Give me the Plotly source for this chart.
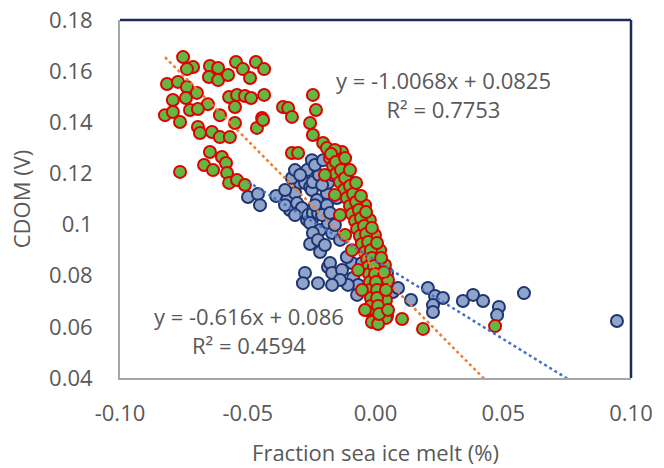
import plotly.graph_objects as go

# ---------------- data ----------------
blue_x = [-0.0499, -0.0460, -0.0452, -0.0389, -0.0346, -0.0335, -0.0315, -0.0307, -0.0295, -0.0295,
          -0.0288, -0.0276, -0.0268, -0.0268, -0.0264, -0.0249, -0.0256, -0.0249, -0.0249, -0.0245,
          -0.0245, -0.0229, -0.0225, -0.0221, -0.0217, -0.0190, -0.0190, -0.0186, -0.0166, -0.0151,
          -0.0108, -0.0088, -0.0256, -0.0245, -0.0256, -0.0217, -0.0186, -0.0170, -0.0186, -0.0178,
          -0.0170, -0.0131, -0.0092, -0.0112, -0.0088, -0.0068, -0.0108, -0.0139, -0.0170, -0.0225,
          -0.0276, -0.0284, -0.0072, -0.0053, -0.0053, 0.0045, 0.0068, 0.0088, 0.0139, 0.0205,
          0.0233, 0.0264, 0.0225, 0.0225, 0.0342, 0.0382, 0.0421, 0.0483, 0.0476, 0.0581,
          0.0945, -0.0139, -0.0119, -0.0100, -0.0080, -0.0041, -0.0014, 0.0010, 0.0029, 0.0037,
          -0.0002, -0.0327, -0.0354,
          -0.0315, -0.0295, -0.0237, -0.0209, -0.0209, -0.0178, -0.0159, -0.0225, -0.0198, -0.0139,
          -0.0315, -0.0354, -0.0237, -0.0205]
blue_y = [0.1108, 0.1120, 0.1076, 0.1112, 0.1096, 0.1057, 0.1123, 0.1084, 0.1163, 0.1053,
          0.1065, 0.1163, 0.1213, 0.1018, 0.1037, 0.1252, 0.1147, 0.1135, 0.1018, 0.1166,
          0.1045, 0.1096, 0.1045, 0.1194, 0.0979, 0.1123, 0.1076, 0.1163, 0.1194, 0.1104,
          0.1147, 0.1163, 0.1006, 0.0967, 0.0924, 0.0893, 0.1006, 0.0967, 0.0834, 0.0850,
          0.0811, 0.0822, 0.0850, 0.0873, 0.0791, 0.0764, 0.0764, 0.0783, 0.0764, 0.0771,
          0.0811, 0.0771, 0.0725, 0.0928, 0.0850, 0.0811, 0.0736, 0.0752, 0.0705, 0.0752,
          0.0721, 0.0713, 0.0685, 0.0658, 0.0701, 0.0725, 0.0701, 0.0678, 0.0646, 0.0732,
          0.0623, 0.1252, 0.1194, 0.1116, 0.1057, 0.0998, 0.0940, 0.0881, 0.0822, 0.0764,
          0.0744, 0.1182, 0.1135,
          0.1213, 0.1194, 0.1233, 0.1155, 0.1037, 0.1045, 0.0998, 0.0940, 0.0920, 0.0940,
          0.1037, 0.1076, 0.1076, 0.1252]

green_x = [-0.0753, -0.0714, -0.0738, -0.0648, -0.0616, -0.0652, -0.0616, -0.0577, -0.0546, -0.0519,
           -0.0491, -0.0468, -0.0436, -0.0816, -0.0773, -0.0738, -0.0699, -0.0793, -0.0742, -0.0656,
           -0.0573, -0.0542, -0.0511, -0.0487, -0.0436, -0.0550, -0.0824, -0.0793, -0.0726, -0.0695,
           -0.0609, -0.0444, -0.0765, -0.0695, -0.0640, -0.0609, -0.0570, -0.0550, -0.0464, -0.0440,
           -0.0362, -0.0342, -0.0327, -0.0245, -0.0233, -0.0256, -0.0245, -0.0327, -0.0303, -0.0648,
           -0.0601, -0.0671, -0.0636, -0.0585, -0.0581, -0.0573, -0.0542, -0.0511, -0.0765, -0.0205,
           -0.0131, -0.0159, -0.0002, 0.0045, 0.0104, 0.0186, 0.0468, -0.0687,
           # dense band near zero
           -0.0190, -0.0159, -0.0178, -0.0147, -0.0166, -0.0131, -0.0155, -0.0119, -0.0139, -0.0104,
           -0.0123, -0.0088, -0.0112, -0.0072, -0.0100, -0.0061, -0.0092, -0.0053, -0.0080, -0.0041,
           -0.0072, -0.0029, -0.0061, -0.0022, -0.0053, -0.0010, -0.0041, -0.0002, -0.0033, 0.0006,
           -0.0029, 0.0010, -0.0025, 0.0018, -0.0022, 0.0018, -0.0022, 0.0022, -0.0018, 0.0022,
           -0.0018, 0.0025, -0.0014, 0.0018, -0.0006, 0.0041, -0.0014, 0.0010,
           -0.0041, -0.0022, -0.0002, 0.0018, 0.0037, 0.0049, 0.0041,
           -0.0198, -0.0159, -0.0139, -0.0119, -0.0092, -0.0068, -0.0053, -0.0041,
           -0.0174, -0.0155, -0.0135, -0.0119, -0.0100, -0.0088, -0.0076, -0.0065, -0.0057, -0.0045,
           -0.0037, -0.0029, -0.0018, -0.0014, -0.0006, -0.0002, 0.0002, 0.0006, 0.0006, 0.0010,
           0.0014,
           -0.0119, -0.0100, -0.0076, -0.0057, -0.0037, -0.0014, 0.0006, 0.0022, 0.0033, 0.0041,
           0.0049]
green_y = [0.1655, 0.1616, 0.1608, 0.1620, 0.1612, 0.1577, 0.1565, 0.1585, 0.1636, 0.1608,
           0.1573, 0.1636, 0.1608, 0.1550, 0.1558, 0.1538, 0.1515, 0.1487, 0.1495, 0.1471,
           0.1499, 0.1507, 0.1503, 0.1495, 0.1507, 0.1460, 0.1428, 0.1440, 0.1448, 0.1452,
           0.1428, 0.1417, 0.1401, 0.1382, 0.1362, 0.1342, 0.1342, 0.1397, 0.1378, 0.1409,
           0.1460, 0.1456, 0.1421, 0.1507, 0.1448, 0.1397, 0.1350, 0.1280, 0.1280, 0.1284,
           0.1264, 0.1233, 0.1213, 0.1241, 0.1202, 0.1163, 0.1174, 0.1155, 0.1206, 0.1319,
           0.1284, 0.1272, 0.0631, 0.0642, 0.0631, 0.0592, 0.0603, 0.1358,
           0.1299, 0.1292, 0.1260, 0.1252, 0.1229, 0.1221, 0.1198, 0.1190, 0.1166, 0.1159,
           0.1135, 0.1127, 0.1104, 0.1096, 0.1073, 0.1069, 0.1041, 0.1037, 0.1014, 0.1006,
           0.0983, 0.0979, 0.0955, 0.0947, 0.0924, 0.0920, 0.0893, 0.0889, 0.0865, 0.0857,
           0.0834, 0.0830, 0.0807, 0.0800, 0.0775, 0.0768, 0.0744, 0.0736, 0.0713, 0.0705,
           0.0682, 0.0678, 0.0654, 0.0646, 0.0627, 0.0635, 0.0619, 0.0611,
           0.1076, 0.1018, 0.0959, 0.0900, 0.0842, 0.0783, 0.0705,
           0.1194, 0.1116, 0.1037, 0.0959, 0.0900, 0.0822, 0.0744, 0.0666,
           0.1276, 0.1245, 0.1213, 0.1182, 0.1151, 0.1120, 0.1088, 0.1057, 0.1026, 0.0994,
           0.0963, 0.0932, 0.0900, 0.0869, 0.0838, 0.0807, 0.0775, 0.0744, 0.0713, 0.0682,
           0.0650,
           0.1260, 0.1213, 0.1163, 0.1112, 0.1049, 0.0987, 0.0928, 0.0869, 0.0814, 0.0744,
           0.0666]

# trendline coefficients (as printed on chart)
green_slope, green_icpt, green_r2 = -1.0068, 0.0825, 0.7753
blue_slope, blue_icpt, blue_r2 = -0.616, 0.086, 0.4594

x_ticks = [-0.10, -0.05, 0.00, 0.05, 0.10]
x_ticklabels = ["-0.10", "-0.05", "0.00", "0.05", "0.10"]
y_ticks = [0.04, 0.06, 0.08, 0.10, 0.12, 0.14, 0.16, 0.18]
y_ticklabels = ["0.04", "0.06", "0.08", "0.1", "0.12", "0.14", "0.16", "0.18"]

# ---------------- figure ----------------
TXT = "#595959"
FONT = "Open Sans"

fig = go.Figure()

fig.add_trace(go.Scatter(
    x=blue_x, y=blue_y, mode="markers",
    marker=dict(size=12, color="#8FA4C9", line=dict(color="#1F3472", width=2)),
    showlegend=False))

fig.add_trace(go.Scatter(
    x=green_x, y=green_y, mode="markers",
    marker=dict(size=12, color="#62B843", line=dict(color="#E00000", width=2)),
    showlegend=False))

gx0, gx1 = min(green_x), max(green_x)
fig.add_trace(go.Scatter(
    x=[gx0, gx1], y=[green_slope * gx0 + green_icpt, green_slope * gx1 + green_icpt],
    mode="lines", line=dict(color="#ED7D31", width=2.5, dash="dot"), showlegend=False))

bx0, bx1 = min(blue_x), max(blue_x)
fig.add_trace(go.Scatter(
    x=[bx0, bx1], y=[blue_slope * bx0 + blue_icpt, blue_slope * bx1 + blue_icpt],
    mode="lines", line=dict(color="#4472C4", width=2.5, dash="dot"), showlegend=False))

ann_font = dict(family=FONT, size=22, color=TXT)
fig.add_annotation(x=0.0268, y=0.1508,
                   text=f"y = {green_slope}x + {green_icpt}<br>R² = {green_r2}",
                   showarrow=False, font=ann_font, align="center")
fig.add_annotation(x=-0.0495, y=0.0586,
                   text=f"y = {blue_slope}x + {blue_icpt}<br>R² = {blue_r2}",
                   showarrow=False, font=ann_font, align="center")

# top and right frame lines (dark navy)
fig.add_shape(type="line", xref="paper", yref="paper", x0=0, x1=1, y0=1, y1=1,
              line=dict(color="#1F2A5C", width=2.5))
fig.add_shape(type="line", xref="paper", yref="paper", x0=1, x1=1, y0=0, y1=1,
              line=dict(color="#1F2A5C", width=2.5))

fig.update_xaxes(
    range=[-0.10, 0.10], tickvals=x_ticks, ticktext=x_ticklabels, automargin=False,
    showgrid=False, zeroline=False, showline=True, linecolor="#A6A6A6", linewidth=2,
    ticks="", ticklabelstandoff=15, ticklabeloverflow="allow",
    tickfont=dict(family=FONT, size=22, color=TXT),
    title=dict(text="Fraction sea ice melt (%)", font=dict(family=FONT, size=22, color=TXT), standoff=19))
fig.update_yaxes(
    range=[0.04, 0.18], tickvals=y_ticks, ticktext=y_ticklabels, automargin=False,
    showgrid=False, zeroline=False, showline=True, linecolor="#A6A6A6", linewidth=2,
    ticks="", ticklabelstandoff=21, ticklabeloverflow="allow",
    tickfont=dict(family=FONT, size=22, color=TXT),
    title=dict(text="CDOM (V)", font=dict(family=FONT, size=22, color=TXT), standoff=12))

fig.update_layout(
    width=664, height=468,
    margin=dict(l=120, r=33, t=20, b=90, autoexpand=False),
    paper_bgcolor="white", plot_bgcolor="white",
)

# remove the default page margin so the figure fills the window exactly
fig.write_html("out.html", config={"displayModeBar": False},
               post_script="document.body.style.margin='0';")
